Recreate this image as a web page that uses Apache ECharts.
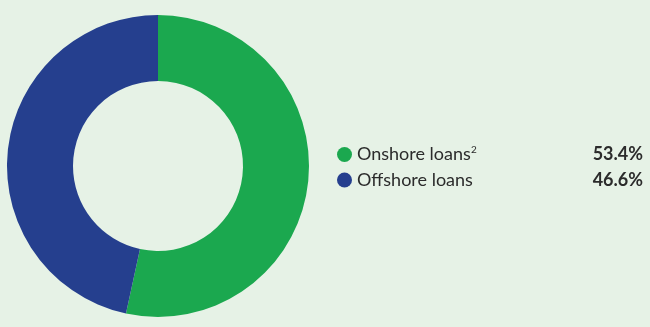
<!DOCTYPE html>
<html>
<head>
<meta charset="utf-8">
<script src="https://cdn.jsdelivr.net/npm/echarts@6/dist/echarts.min.js"></script>
<style>
  html, body { margin: 0; padding: 0; background: #e6f2e6; }
  #chart { width: 650px; height: 327px; }
</style>
</head>
<body>
<div id="chart"></div>
<script>
// Loan book split by location
const categories = ['Onshore loans', 'Offshore loans'];
const footnotes = ['2', ''];
const shares = [53.4, 46.6];
const colors = ['#1ba84f', '#253f8e'];

const FONT = 'Lato';
const NAME_SIZE = 18;
const ROW_WIDTH = 286;   // from label start to right edge of the value column
const VALUE_WIDTH = 60;

// measure a label so the footnote marker can sit right after it
const measureCtx = document.createElement('canvas').getContext('2d');
function textWidth(str, size, weight) {
  measureCtx.font = (weight || 'normal') + ' ' + size + 'px ' + FONT;
  return Math.round(measureCtx.measureText(str).width);
}

const chart = echarts.init(document.getElementById('chart'));

const pieData = categories.map((name, i) => ({
  name,
  value: shares[i],
  itemStyle: { color: colors[i] }
}));

const rich = {
  n: { fontFamily: FONT, fontSize: NAME_SIZE, color: '#2b2b2b', width: ROW_WIDTH - VALUE_WIDTH, lineHeight: 20 },
  v: { fontFamily: FONT, fontSize: NAME_SIZE, fontWeight: 'bold', color: '#2b2b2b', width: VALUE_WIDTH, align: 'right', lineHeight: 20 }
};

categories.forEach((name, i) => {
  if (footnotes[i]) {
    const w = textWidth(name, NAME_SIZE);
    rich['n' + i] = { fontFamily: FONT, fontSize: NAME_SIZE, color: '#2b2b2b', width: w, lineHeight: 20 };
    rich['s' + i] = {
      fontFamily: FONT, fontSize: 10, color: '#2b2b2b', lineHeight: 20,
      width: ROW_WIDTH - VALUE_WIDTH - w, padding: [0, 0, 9, 0]
    };
  }
});

chart.setOption({
  backgroundColor: '#e6f2e6',
  animation: false,
  legend: {
    orient: 'vertical',
    left: 337,
    top: 145,
    padding: 0,
    itemWidth: 15,
    itemHeight: 15,
    itemGap: 7,
    icon: 'circle',
    selectedMode: false,
    data: categories,
    formatter: function (name) {
      const i = categories.indexOf(name);
      const val = shares[i].toFixed(1) + '%';
      if (footnotes[i]) {
        return '{n' + i + '|' + name + '}{s' + i + '|' + footnotes[i] + '}{v|' + val + '}';
      }
      return '{n|' + name + '}{v|' + val + '}';
    },
    textStyle: {
      fontFamily: FONT,
      color: '#2b2b2b',
      rich: rich
    }
  },
  series: [{
    type: 'pie',
    center: [158, 166],
    radius: [85, 151],
    startAngle: 90,
    clockwise: true,
    silent: true,
    label: { show: false },
    labelLine: { show: false },
    itemStyle: { borderWidth: 0 },
    data: pieData
  }]
});
</script>
</body>
</html>
